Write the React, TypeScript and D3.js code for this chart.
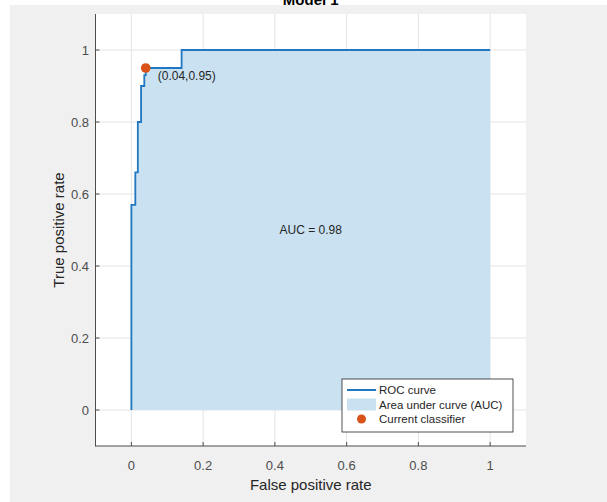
import React, { useEffect, useRef } from "react";
import * as d3 from "d3";

// ROC curve points (false positive rate, true positive rate)
const fpr = [0, 0, 0.011, 0.011, 0.018, 0.018, 0.027, 0.027, 0.036, 0.036, 0.04, 0.04, 0.14, 0.14, 1];
const tpr = [0, 0.57, 0.57, 0.66, 0.66, 0.8, 0.8, 0.9, 0.9, 0.93, 0.93, 0.95, 0.95, 1, 1];
const classifier = [0.04, 0.95];
const tickValues = [0, 0.2, 0.4, 0.6, 0.8, 1];
const aucText = "AUC = 0.98";
const legendLabels = ["ROC curve", "Area under curve (AUC)", "Current classifier"];

const width = 607;
const height = 502;
const font = "'Liberation Sans', Arial, sans-serif";
const lineColor = "#1f78c1";
const areaColor = "#c9e1f1";
const dotColor = "#d95319";

const App = () => {
  const svgRef = useRef<SVGSVGElement>(null);

  useEffect(() => {
    document.body.style.margin = "0";
    const svg = d3.select(svgRef.current);
    svg.selectAll("*").remove();

    // page background
    svg.append("rect").attr("width", width).attr("height", height).attr("fill", "#ffffff");
    svg.append("rect").attr("x", 10).attr("y", 5).attr("width", width - 10).attr("height", height - 5).attr("fill", "#f0f0f0");

    const x = d3.scaleLinear().domain([-0.1, 1.1]).range([95.5, 526]);
    const y = d3.scaleLinear().domain([-0.1, 1.1]).range([446, 14]);

    const g = svg.append("g");

    g.append("rect")
      .attr("x", x(-0.1))
      .attr("y", y(1.1))
      .attr("width", x(1.1) - x(-0.1))
      .attr("height", y(-0.1) - y(1.1))
      .attr("fill", "#ffffff");

    // grid
    g.selectAll(".gx")
      .data(tickValues)
      .enter()
      .append("line")
      .attr("x1", (d) => x(d))
      .attr("x2", (d) => x(d))
      .attr("y1", y(-0.1))
      .attr("y2", y(1.1))
      .attr("stroke", "#e4e4e4");
    g.selectAll(".gy")
      .data(tickValues)
      .enter()
      .append("line")
      .attr("y1", (d) => y(d))
      .attr("y2", (d) => y(d))
      .attr("x1", x(-0.1))
      .attr("x2", x(1.1))
      .attr("stroke", "#e4e4e4");

    const pts: [number, number][] = fpr.map((f, i) => [f, tpr[i]]);

    // area under curve
    const area = d3
      .area<[number, number]>()
      .x((d) => x(d[0]))
      .y0(y(0))
      .y1((d) => y(d[1]));
    g.append("path").attr("d", area(pts)).attr("fill", areaColor);

    // ROC line
    const line = d3
      .line<[number, number]>()
      .x((d) => x(d[0]))
      .y((d) => y(d[1]));
    g.append("path")
      .attr("d", line(pts))
      .attr("fill", "none")
      .attr("stroke", lineColor)
      .attr("stroke-width", 1.8);

    // current classifier
    g.append("circle")
      .attr("cx", x(classifier[0]))
      .attr("cy", y(classifier[1]))
      .attr("r", 4.8)
      .attr("fill", dotColor);
    g.append("text")
      .attr("x", x(classifier[0]) + 12)
      .attr("y", y(classifier[1]) + 12)
      .attr("font-family", font)
      .attr("font-size", 12)
      .attr("fill", "#262626")
      .text(`(${classifier[0]},${classifier[1]})`);

    g.append("text")
      .attr("x", x(0.5))
      .attr("y", y(0.5) + 4)
      .attr("text-anchor", "middle")
      .attr("font-family", font)
      .attr("font-size", 12)
      .attr("fill", "#262626")
      .text(aucText);

    // axes
    const axisColor = "#4d4d4d";
    g.append("line")
      .attr("x1", x(-0.1))
      .attr("x2", x(-0.1))
      .attr("y1", y(1.1))
      .attr("y2", y(-0.1) + 0.5)
      .attr("stroke", axisColor);
    g.append("line")
      .attr("x1", x(-0.1))
      .attr("x2", x(1.1))
      .attr("y1", y(-0.1))
      .attr("y2", y(-0.1))
      .attr("stroke", axisColor);

    tickValues.forEach((t) => {
      g.append("line")
        .attr("x1", x(t))
        .attr("x2", x(t))
        .attr("y1", y(-0.1))
        .attr("y2", y(-0.1) - 4)
        .attr("stroke", axisColor);
      g.append("line")
        .attr("x1", x(-0.1))
        .attr("x2", x(-0.1) + 4)
        .attr("y1", y(t))
        .attr("y2", y(t))
        .attr("stroke", axisColor);
      g.append("text")
        .attr("x", x(t))
        .attr("y", 470)
        .attr("text-anchor", "middle")
        .attr("font-family", font)
        .attr("font-size", 13)
        .attr("fill", axisColor)
        .text(d3.format("~g")(t));
      g.append("text")
        .attr("x", 89)
        .attr("y", y(t) + 4.5)
        .attr("text-anchor", "end")
        .attr("font-family", font)
        .attr("font-size", 13)
        .attr("fill", axisColor)
        .text(d3.format("~g")(t));
    });

    g.append("text")
      .attr("x", x(0.5))
      .attr("y", 490)
      .attr("text-anchor", "middle")
      .attr("font-family", font)
      .attr("font-size", 15)
      .attr("fill", "#262626")
      .text("False positive rate");
    g.append("text")
      .attr("transform", `translate(64, ${y(0.5)}) rotate(-90)`)
      .attr("text-anchor", "middle")
      .attr("font-family", font)
      .attr("font-size", 15)
      .attr("fill", "#262626")
      .text("True positive rate");

    // title (clipped at the top, as in the source screenshot)
    g.append("text")
      .attr("x", x(0.5))
      .attr("y", 5)
      .attr("text-anchor", "middle")
      .attr("font-family", font)
      .attr("font-size", 15)
      .attr("font-weight", "bold")
      .attr("fill", "#000")
      .text("Model 1");

    // legend
    const lg = g.append("g").attr("transform", "translate(342, 379)");
    lg.append("rect")
      .attr("width", 171)
      .attr("height", 53)
      .attr("fill", "#ffffff")
      .attr("stroke", "#262626")
      .attr("stroke-width", 0.8);
    const rowY = [11, 25.5, 40];
    lg.append("line")
      .attr("x1", 5)
      .attr("x2", 34)
      .attr("y1", rowY[0])
      .attr("y2", rowY[0])
      .attr("stroke", lineColor)
      .attr("stroke-width", 2);
    lg.append("rect")
      .attr("x", 5)
      .attr("y", rowY[1] - 6)
      .attr("width", 29)
      .attr("height", 12)
      .attr("fill", areaColor);
    lg.append("circle")
      .attr("cx", 19.5)
      .attr("cy", rowY[2])
      .attr("r", 4.5)
      .attr("fill", dotColor);
    legendLabels.forEach((label, i) => {
      lg.append("text")
        .attr("x", 37)
        .attr("y", rowY[i] + 4)
        .attr("font-family", font)
        .attr("font-size", 11.5)
        .attr("fill", "#262626")
        .text(label);
    });
  }, []);

  return <svg ref={svgRef} width={width} height={height} style={{ display: "block" }} />;
};

export default App;
